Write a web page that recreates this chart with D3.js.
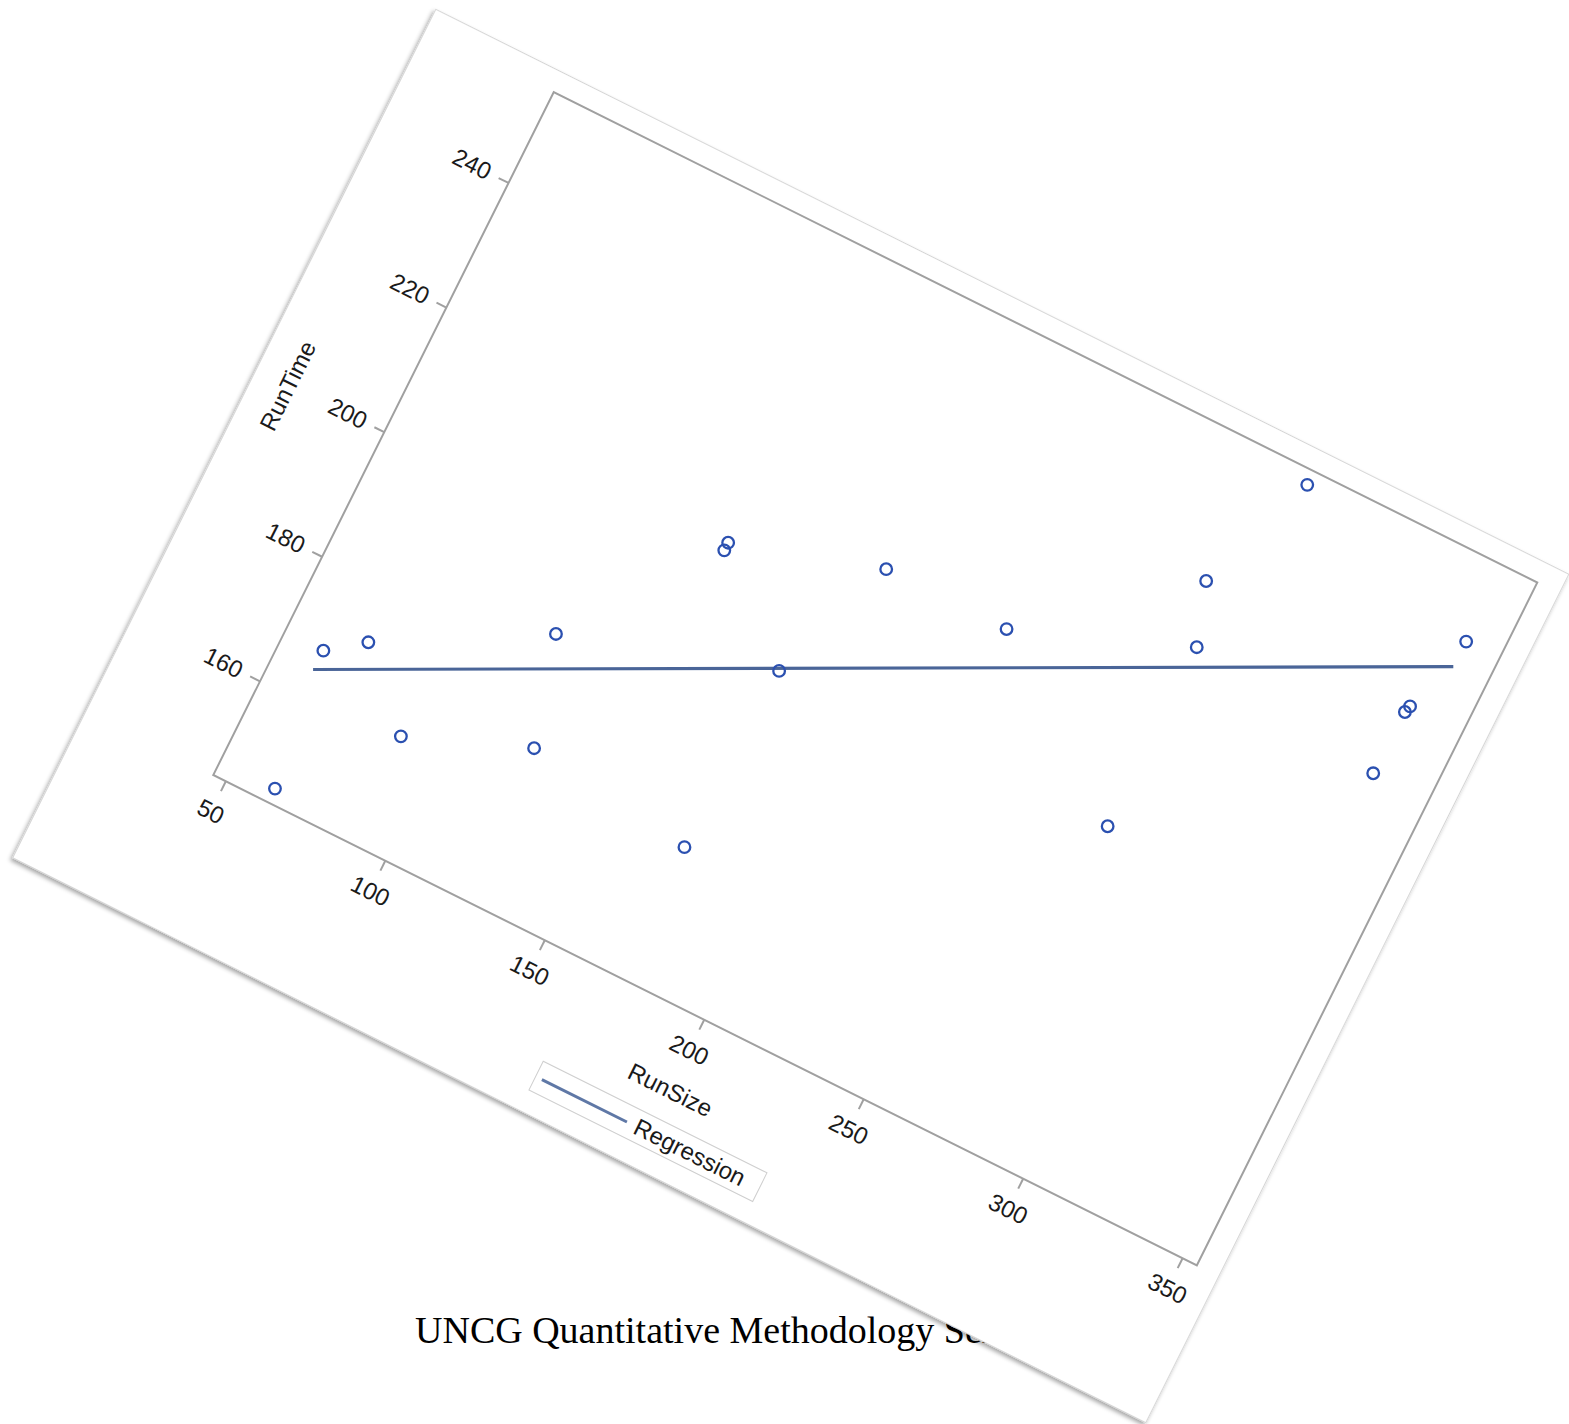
<!DOCTYPE html>
<html>
<head>
<meta charset="utf-8">
<script src="https://cdn.jsdelivr.net/npm/d3@7"></script>
<style>
  body { margin: 0; background: #fff; }
  svg { display: block; }
</style>
</head>
<body>
<script>
const W = 1569;
const H = 1424;

// scatter points (RunSize, RunTime)
const runSize = [64.0, 75.3, 85.8, 93.4, 124.5, 129.6, 159.6, 168.9, 169.8, 181.7,
  206.7, 234.8, 258.4, 279.2, 281.4, 305.0, 320.4, 327.8, 329.0, 342.1];
const runTime = [152.4, 172.2, 173.4, 159.9, 158.2, 174.6, 144.0, 186.6, 187.7, 169.3,
  183.9, 175.3, 147.0, 172.7, 182.2, 196.0, 154.6, 163.4, 164.2, 173.5];

// fitted line end points
const regSize = [72.9, 339.1];
const regTime = [169.5, 169.9];

const xTicks = [50, 100, 150, 200, 250, 300, 350];
const yTicks = [160, 180, 200, 220, 240];

const angle = 26.5;
const origin = { x: 213.3, y: 775 };
const frame = { width: 1099, height: 763 };

const svg = d3
  .select("body")
  .append("svg")
  .attr("width", W)
  .attr("height", H);

const defs = svg.append("defs");
const shadow = defs.append("filter").attr("id", "shadow")
  .attr("x", "-5%").attr("y", "-5%").attr("width", "110%").attr("height", "110%");
shadow.append("feDropShadow")
  .attr("dx", -1).attr("dy", 3).attr("stdDeviation", 2)
  .attr("flood-color", "#000").attr("flood-opacity", 0.35);

// slide footer, sits behind the tilted picture
svg.append("text")
  .attr("x", 415)
  .attr("y", 1343)
  .attr("font-family", "'Liberation Serif', 'Times New Roman', serif")
  .attr("font-size", "38px")
  .attr("fill", "#000")
  .text("UNCG Quantitative Methodology Series");

const g = svg.append("g")
  .attr("transform", `translate(${origin.x},${origin.y}) rotate(${angle})`);

// the card
g.append("rect")
  .attr("x", -142.5)
  .attr("y", -784.5)
  .attr("width", 1266)
  .attr("height", 948)
  .attr("fill", "#fff")
  .attr("stroke", "#d6d6d6")
  .attr("stroke-width", 1)
  .attr("filter", "url(#shadow)");

const xScale = d3.scaleLinear().domain([46.2, 354.6]).range([0, frame.width]);
const yScale = d3.scaleLinear().domain([144.9, 254.5]).range([0, -frame.height]);

const axisFont = "'Liberation Sans', Arial, sans-serif";

const xAxis = g.append("g")
  .call(d3.axisBottom(xScale).tickValues(xTicks).tickSize(11).tickPadding(14).tickFormat(d3.format("d")));
const yAxis = g.append("g")
  .call(d3.axisLeft(yScale).tickValues(yTicks).tickSize(11).tickPadding(10).tickFormat(d3.format("d")));

[xAxis, yAxis].forEach((a) => {
  a.select(".domain").remove();
  a.selectAll(".tick line").attr("stroke", "#a0a0a0").attr("stroke-width", 2);
  a.selectAll(".tick text")
    .attr("font-family", axisFont)
    .attr("font-size", "24px")
    .attr("fill", "#1a1a1a");
});

g.append("rect")
  .attr("x", 0)
  .attr("y", -frame.height)
  .attr("width", frame.width)
  .attr("height", frame.height)
  .attr("fill", "none")
  .attr("stroke", "#a0a0a0")
  .attr("stroke-width", 2);

g.append("text")
  .attr("x", frame.width / 2)
  .attr("y", 78)
  .attr("dy", "0.35em")
  .attr("text-anchor", "middle")
  .attr("font-family", axisFont)
  .attr("font-size", "24px")
  .attr("fill", "#1a1a1a")
  .text("RunSize");

g.append("text")
  .attr("transform", "rotate(-90)")
  .attr("x", frame.height / 2)
  .attr("y", -107)
  .attr("dy", "0.35em")
  .attr("text-anchor", "middle")
  .attr("font-family", axisFont)
  .attr("font-size", "24px")
  .attr("fill", "#1a1a1a")
  .text("RunTime");

// legend
const legend = g.append("g").attr("transform", "translate(423,109)");
legend.append("rect")
  .attr("width", 250)
  .attr("height", 32)
  .attr("fill", "#fff")
  .attr("stroke", "#cfcfcf")
  .attr("stroke-width", 1);
legend.append("line")
  .attr("x1", 7).attr("x2", 102)
  .attr("y1", 17).attr("y2", 17)
  .attr("stroke", "#5f78a6")
  .attr("stroke-width", 3);
legend.append("text")
  .attr("x", 111)
  .attr("y", 16)
  .attr("dy", "0.35em")
  .attr("font-family", axisFont)
  .attr("font-size", "24px")
  .attr("fill", "#1a1a1a")
  .text("Regression");

// marks are laid out flat on the slide, not tilted with the card
const sx = d3.scaleLinear().domain([50, 350]).range([215, 1500]);
const sy = d3.scaleLinear().domain([140, 200]).range([875, 457]);

const points = runSize.map((d, i) => ({ size: d, time: runTime[i] }));
const reg = regSize.map((d, i) => ({ size: d, time: regTime[i] }));

svg.append("path")
  .datum(reg)
  .attr("d", d3.line().x((d) => sx(d.size)).y((d) => sy(d.time)))
  .attr("fill", "none")
  .attr("stroke", "#4a6598")
  .attr("stroke-width", 3.2);

svg.selectAll(".pt")
  .data(points)
  .enter()
  .append("circle")
  .attr("class", "pt")
  .attr("cx", (d) => sx(d.size))
  .attr("cy", (d) => sy(d.time))
  .attr("r", 5.8)
  .attr("fill", "none")
  .attr("stroke", "#2b50b0")
  .attr("stroke-width", 2.3);
</script>
</body>
</html>
